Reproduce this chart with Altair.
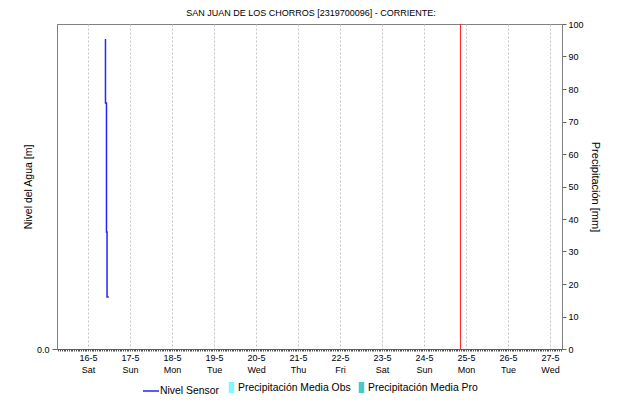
import altair as alt
import pandas as pd

TITLE = "SAN JUAN DE LOS CHORROS [2319700096] - CORRIENTE:"

level_time = ["2020-05-16T09:57:00", "2020-05-16T10:31:00", "2020-05-16T10:51:00", "2020-05-16T11:50:00"]
level_value = [0.954, 0.757, 0.36, 0.16]

precip_day = ["2020-05-16T12:00:00", "2020-05-17T12:00:00", "2020-05-18T12:00:00",
              "2020-05-19T12:00:00", "2020-05-20T12:00:00", "2020-05-21T12:00:00",
              "2020-05-22T12:00:00", "2020-05-23T12:00:00", "2020-05-24T12:00:00",
              "2020-05-25T12:00:00", "2020-05-26T12:00:00", "2020-05-27T12:00:00"]
precip_obs = [0, 0, 0, 0, 0, 0, 0, 0, 0, 0, 0, 0]
precip_pro = [0, 0, 0, 0, 0, 0, 0, 0, 0, 0, 0, 0]
precip_series = ["Precipitación Media Obs", "Precipitación Media Pro"]
precip_colors = ["#7ff8ff", "#45c9c9"]

now_time = ["2020-05-24T20:48:00"]
x_domain = ["2020-05-15T06:15:00", "2020-05-27T06:50:00"]
right_ticks = [0, 10, 20, 30, 40, 50, 60, 70, 80, 90, 100]

FONT = "Liberation Sans, Arial"

level_df = pd.DataFrame({"t": level_time, "v": level_value, "serie": "Nivel Sensor"})
precip_df = pd.concat([
    pd.DataFrame({"t": precip_day, "p": precip_obs, "serie": precip_series[0]}),
    pd.DataFrame({"t": precip_day, "p": precip_pro, "serie": precip_series[1]}),
])
now_df = pd.DataFrame({"t": now_time})

xscale = alt.Scale(domain=x_domain, nice=False, padding=0)

main_x_axis = alt.Axis(
    title=None, orient="bottom", grid=True, gridDash=[2, 2], gridColor="#c4c4c4",
    tickCount={"interval": "day", "step": 1},
    labelExpr="[timeFormat(datum.value, '%-d-%-m'), timeFormat(datum.value, '%a')]",
    labelFont=FONT, labelFontSize=9, labelColor="#000", labelLineHeight=12,
    labelAngle=0, labelPadding=4, tickSize=0, domainColor="#606060",
)

# chart title carried by a top axis so it can be placed exactly
title_axis = alt.Axis(
    orient="top", title=TITLE, labels=False, ticks=False, domain=False, grid=False,
    titleFont=FONT, titleFontSize=9, titleFontWeight="normal", titleColor="#000",
    titleX=253.5, titleY=-11.3, titleAlign="center", titleBaseline="middle",
)

line = alt.Chart(level_df).mark_line(interpolate="step-before", strokeWidth=1.5).encode(
    x=alt.X("t:T", scale=xscale, axis=main_x_axis),
    y=alt.Y("v:Q", scale=alt.Scale(domain=[0, 1]),
            axis=alt.Axis(orient="left", title="Nivel del Agua [m]", values=[0], format=".1f",
                          grid=False, tickSize=5, labelPadding=3, labelFont=FONT,
                          labelFontSize=9, labelColor="#000", domainColor="#808080",
                          tickColor="#606060", titleFont=FONT, titleFontSize=10.5,
                          titleFontWeight="normal", titleColor="#000", titleAngle=-90,
                          titleX=-29, titleY=162.5, titleAlign="center",
                          titleBaseline="middle")),
    stroke=alt.Stroke("serie:N", scale=alt.Scale(domain=["Nivel Sensor"], range=["#2424ff"]),
                      legend=alt.Legend(title=None, orient="none", legendX=85, legendY=358,
                                        symbolType="stroke", symbolSize=256,
                                        symbolStrokeWidth=1.5, symbolStrokeColor="#2424ff",
                                        labelFont=FONT, labelFontSize=10.4, labelColor="#000",
                                        labelOffset=0, padding=0)),
)

bars = alt.Chart(precip_df).mark_bar().encode(
    x=alt.X("t:T", scale=xscale, axis=title_axis),
    y=alt.Y("p:Q", scale=alt.Scale(domain=[0, 100]),
            axis=alt.Axis(orient="right", title="Precipitación [mm]", values=right_ticks,
                          grid=False, tickSize=4, labelPadding=2, labelFont=FONT,
                          labelFontSize=9, labelColor="#000", domainColor="#808080",
                          tickColor="#606060", titleFont=FONT, titleFontSize=11,
                          titleFontWeight="normal", titleColor="#000", titleAngle=90,
                          titleX=32, titleY=162.5, titleAlign="center",
                          titleBaseline="middle")),
    fill=alt.Fill("serie:N", scale=alt.Scale(domain=precip_series, range=precip_colors),
                  legend=alt.Legend(title=None, orient="none", legendX=169, legendY=358,
                                    direction="horizontal", columns=2, columnPadding=5,
                                    symbolType="M-0.5,-1H0.5V1H-0.5Z", symbolSize=121,
                                    symbolStrokeWidth=0, labelFont=FONT, labelFontSize=10.4,
                                    labelColor="#000", labelOffset=1, padding=0)),
)

now_rule = alt.Chart(now_df).mark_rule(color="#ff1a1a", stroke="#ff1a1a", strokeWidth=1,
                                        opacity=1).encode(
    x=alt.X("t:T", scale=xscale,
            axis=alt.Axis(title=None, orient="bottom", labels=False, domain=False, grid=False,
                          tickCount=290, tickSize=2, tickColor="#505050")),
)

chart = alt.layer(line, bars, now_rule).resolve_scale(
    y="independent"
).resolve_axis(
    x="independent", y="independent"
).properties(
    width=505, height=325,
    autosize=alt.AutoSizeParams(type="none"),
    padding={"left": 49, "top": 16, "right": 51, "bottom": 46},
).configure_view(
    stroke="#808080", strokeWidth=1
)

chart.save("out.html", embed_options={"renderer": "svg", "actions": False})
